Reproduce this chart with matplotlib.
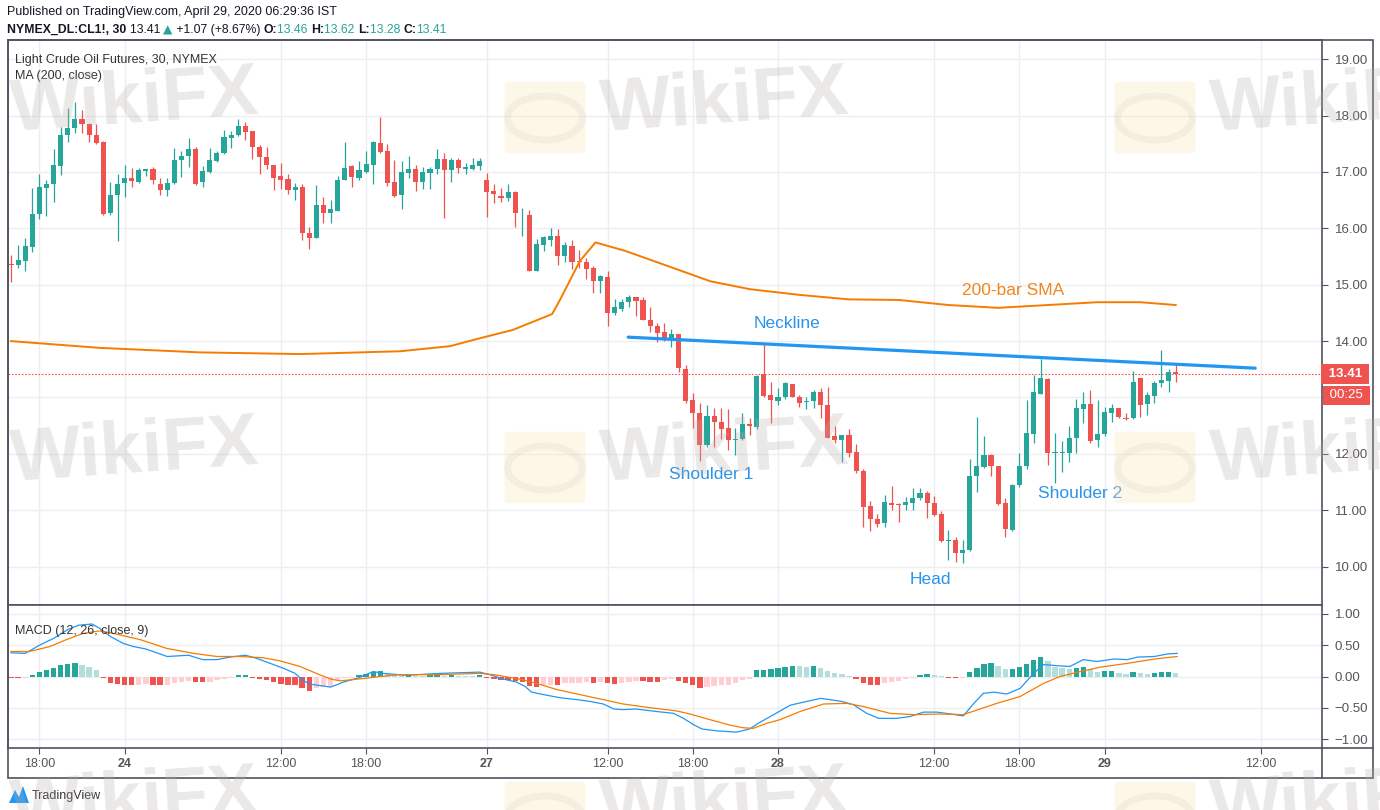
import matplotlib.pyplot as plt
import numpy as np
from matplotlib.patches import Rectangle, FancyBboxPatch, Polygon, Circle
from matplotlib.transforms import IdentityTransform, blended_transform_factory
from matplotlib.lines import Line2D

plt.rcParams['font.family'] = ['Liberation Sans', 'DejaVu Sans']

W, H = 1380, 810

# ---- OHLC of the 30-minute bars (index 0..164) ----
opens = [15.37, 15.35, 15.42, 15.67, 16.26, 16.71, 16.78, 17.10, 17.65, 17.78,
         17.94, 17.85, 17.66, 17.53, 16.27, 16.60, 16.80, 16.90, 16.82, 17.01,
         17.06, 16.78, 16.68, 16.80, 17.22, 17.28, 17.41, 16.82, 17.00, 17.19,
         17.34, 17.60, 17.65, 17.82, 17.72, 17.45, 17.27, 17.12, 16.92, 16.88,
         16.68, 16.74, 15.91, 15.83, 16.42, 16.27, 16.31, 16.86, 17.10, 16.90,
         17.00, 17.13, 17.52, 17.38, 16.83, 16.59, 16.98, 17.05, 16.82, 16.98,
         17.05, 17.23, 17.03, 17.22, 17.06, 17.05, 17.11, 16.85, 16.66, 16.58,
         16.53, 16.64, 16.23, 16.24, 15.25, 15.71, 15.80, 15.87, 15.51, 15.69,
         15.42, 15.41, 15.30, 15.06, 15.14, 14.49, 14.57, 14.69, 14.78, 14.73,
         14.38, 14.27, 14.17, 14.05, 14.13, 13.50, 12.96, 12.73, 12.16, 12.67,
         12.57, 12.46, 12.25, 12.26, 12.53, 12.47, 13.42, 13.04, 12.94, 13.00,
         13.24, 13.01, 12.92, 12.94, 13.09, 12.87, 12.31, 12.25, 12.34, 12.03,
         11.70, 11.08, 10.84, 10.77, 11.13, 11.12, 11.09, 11.13, 11.22, 11.30,
         11.13, 10.94, 10.46, 10.47, 10.24, 10.29, 11.60, 11.76, 11.98, 11.79,
         11.13, 10.65, 11.45, 11.78, 12.35, 13.07, 13.32, 12.01, 12.02, 12.02,
         12.29, 12.80, 12.88, 12.24, 12.35, 12.73, 12.81, 12.63, 12.63, 13.34,
         12.88, 13.03, 13.25, 13.30, 13.46]
highs = [15.52, 15.70, 15.82, 16.72, 16.96, 16.86, 17.41, 17.79, 18.14, 18.24,
         18.09, 17.87, 17.85, 17.55, 16.82, 16.97, 17.13, 17.07, 17.07, 17.06,
         17.09, 16.90, 16.90, 17.43, 17.38, 17.60, 17.44, 17.10, 17.43, 17.38,
         17.75, 17.72, 17.94, 17.88, 17.73, 17.47, 17.45, 17.13, 17.16, 16.96,
         16.80, 16.78, 16.02, 16.76, 16.55, 16.50, 16.92, 17.53, 17.12, 17.19,
         17.38, 17.55, 17.97, 17.49, 17.22, 17.19, 17.29, 17.13, 17.09, 17.09,
         17.41, 17.34, 17.25, 17.25, 17.16, 17.25, 17.25, 16.98, 16.78, 16.72,
         16.78, 16.67, 16.36, 16.33, 15.81, 15.87, 16.01, 15.98, 15.75, 15.80,
         15.62, 15.47, 15.33, 15.18, 15.25, 14.75, 14.75, 14.82, 14.79, 14.78,
         14.60, 14.32, 14.32, 14.21, 14.13, 13.58, 13.08, 12.91, 12.87, 12.81,
         12.81, 12.79, 12.46, 12.73, 12.63, 13.40, 13.96, 13.28, 13.16, 13.28,
         13.24, 13.04, 13.01, 13.13, 13.16, 13.18, 12.50, 12.34, 12.45, 12.18,
         11.73, 11.16, 10.94, 11.27, 11.43, 11.13, 11.23, 11.39, 11.39, 11.34,
         11.26, 10.98, 10.65, 10.52, 10.47, 11.91, 12.65, 12.32, 12.00, 11.79,
         11.22, 11.47, 12.02, 12.96, 13.40, 13.68, 13.34, 12.37, 12.22, 12.50,
         12.97, 13.10, 13.14, 12.96, 12.84, 12.88, 12.81, 12.73, 13.47, 13.34,
         13.09, 13.30, 13.85, 13.50, 13.62]
lows = [15.05, 15.30, 15.24, 15.58, 16.17, 16.21, 16.47, 16.94, 17.53, 17.69,
        17.69, 17.53, 17.49, 16.23, 16.23, 15.78, 16.55, 16.74, 16.81, 16.92,
        16.78, 16.60, 16.58, 16.79, 16.91, 17.09, 16.76, 16.74, 16.98, 17.17,
        17.32, 17.43, 17.63, 17.57, 17.23, 16.96, 17.06, 16.68, 16.70, 16.61,
        16.51, 15.79, 15.64, 15.82, 16.09, 16.09, 16.31, 16.86, 16.74, 16.85,
        16.98, 16.78, 17.33, 16.75, 16.56, 16.34, 16.89, 16.66, 16.70, 16.70,
        16.97, 16.18, 16.82, 16.99, 16.97, 17.04, 17.04, 16.20, 16.45, 16.46,
        16.48, 16.02, 15.87, 15.24, 15.24, 15.59, 15.68, 15.35, 15.41, 15.28,
        15.30, 15.10, 14.86, 14.85, 14.26, 14.47, 14.54, 14.60, 14.44, 14.37,
        14.17, 13.98, 14.01, 13.89, 13.46, 12.91, 12.46, 11.88, 12.13, 12.12,
        12.26, 12.07, 11.98, 12.24, 12.34, 12.44, 13.00, 12.54, 12.87, 12.97,
        13.00, 12.84, 12.79, 12.81, 12.64, 12.28, 12.19, 11.86, 11.94, 11.66,
        10.71, 10.63, 10.71, 10.70, 11.01, 10.80, 11.00, 11.00, 11.19, 10.86,
        10.89, 10.43, 10.12, 10.09, 10.07, 10.27, 11.33, 11.75, 11.60, 11.10,
        10.53, 10.64, 11.42, 11.73, 12.19, 13.06, 11.81, 11.49, 11.67, 11.85,
        12.02, 12.55, 12.20, 12.12, 12.32, 12.57, 12.63, 12.60, 12.61, 12.66,
        12.69, 12.91, 13.18, 13.09, 13.28]
closes = [15.35, 15.43, 15.68, 16.26, 16.74, 16.79, 17.12, 17.65, 17.78, 17.94,
          17.85, 17.66, 17.51, 16.26, 16.60, 16.79, 16.90, 16.84, 17.04, 17.06,
          16.86, 16.68, 16.80, 17.22, 17.29, 17.41, 16.79, 17.01, 17.22, 17.34,
          17.62, 17.66, 17.82, 17.70, 17.44, 17.26, 17.13, 16.90, 16.86, 16.68,
          16.74, 15.91, 15.82, 16.42, 16.27, 16.34, 16.86, 17.07, 16.91, 17.03,
          17.14, 17.53, 17.36, 16.81, 16.58, 17.00, 17.05, 16.82, 17.00, 17.05,
          17.23, 17.03, 17.22, 17.07, 17.09, 17.13, 17.20, 16.64, 16.61, 16.54,
          16.64, 16.27, 16.24, 15.25, 15.73, 15.85, 15.87, 15.51, 15.71, 15.41,
          15.40, 15.28, 15.06, 15.15, 14.49, 14.60, 14.70, 14.78, 14.72, 14.37,
          14.26, 14.15, 14.05, 14.13, 13.52, 12.93, 12.72, 12.16, 12.67, 12.56,
          12.44, 12.25, 12.27, 12.53, 12.49, 13.38, 13.03, 12.96, 13.00, 13.25,
          13.01, 12.91, 12.94, 13.09, 12.87, 12.29, 12.25, 12.34, 12.01, 11.69,
          11.06, 10.84, 10.76, 11.14, 11.10, 11.09, 11.14, 11.22, 11.30, 11.13,
          10.92, 10.45, 10.47, 10.25, 10.30, 11.61, 11.78, 11.98, 11.78, 11.12,
          10.67, 11.45, 11.78, 12.37, 13.09, 13.34, 12.01, 12.03, 12.03, 12.29,
          12.81, 12.88, 12.22, 12.35, 12.75, 12.81, 12.65, 12.61, 13.28, 12.87,
          13.04, 13.26, 13.31, 13.46, 13.41]

# 200-bar SMA (bar position, value)
ma_x = [0, 12.5, 26.6, 40.7, 54.8, 61.8, 66, 70.7, 76.2, 77.3, 80.1, 82.3, 86.5,
        91.4, 98.5, 104.1, 111, 118, 125, 132, 139, 146, 153, 159, 164]
ma_vals = [14.00, 13.88, 13.80, 13.77, 13.82, 13.91, 14.05, 14.20, 14.48, 14.73,
           15.42, 15.75, 15.60, 15.38, 15.06, 14.92, 14.82, 14.74, 14.73, 14.64,
           14.59, 14.64, 14.69, 14.69, 14.64]

# MACD line
macd_x = [0, 2, 4, 6, 8, 9.5, 11.4, 12.5, 14, 15.8, 17.2, 19, 20.5, 22, 25, 27, 29,
          30.8, 33, 34.6, 36.5, 38.4, 40, 41, 42, 45, 46.8, 49, 51, 52.4, 55.7,
          60.4, 66, 67.4, 69.3, 71.2, 72.4, 73.3, 75, 77.3, 79.7, 81.6, 83.4, 84.9,
          86.2, 88, 90.9, 93.3, 94.7, 96.1, 97.3, 99.4, 102.2, 104, 105.2, 107.4,
          109.7, 111.6, 114, 115.3, 117, 118.6, 120.5, 122.2, 124.7, 126.6, 128.5,
          130.4, 132.3, 134.1, 135.5, 136.9, 138.4, 140.2, 142.1, 144, 145.4, 147.7,
          149.1, 151, 152.9, 155.3, 157.2, 158.6, 161, 162.8, 164.2]
macd_vals = [0.38, 0.37, 0.50, 0.61, 0.75, 0.82, 0.84, 0.77, 0.64, 0.53, 0.48, 0.44,
             0.38, 0.32, 0.34, 0.27, 0.27, 0.31, 0.34, 0.29, 0.21, 0.13, 0.05, -0.05,
             -0.12, -0.17, -0.09, -0.02, 0.08, 0.05, 0.02, 0.05, 0.07, 0.03, -0.04,
             -0.09, -0.16, -0.25, -0.29, -0.34, -0.37, -0.40, -0.44, -0.52, -0.53,
             -0.52, -0.56, -0.59, -0.67, -0.77, -0.84, -0.87, -0.89, -0.84, -0.75,
             -0.61, -0.46, -0.41, -0.35, -0.37, -0.40, -0.45, -0.59, -0.67, -0.67,
             -0.64, -0.57, -0.57, -0.60, -0.63, -0.44, -0.27, -0.25, -0.28, -0.19,
             0.05, 0.19, 0.17, 0.16, 0.27, 0.24, 0.28, 0.27, 0.31, 0.32, 0.36, 0.37]

# signal line
signal_x = [0, 2.6, 5.5, 7.8, 10.2, 12.5, 14.4, 18.2, 21.9, 25.7, 29, 32.3, 35.5,
            37.9, 40.7, 43, 45, 46.3, 49, 52, 54.8, 60.4, 66, 68, 72, 74, 76.9,
            79.7, 83.4, 86.2, 90, 93.7, 95.6, 98.4, 101.3, 103.1, 104.5, 106.4,
            108.3, 111.1, 114.4, 117.7, 120, 123.8, 127.1, 130.9, 134.1, 138.8,
            142.1, 145.4, 147.7, 150.6, 153.4, 157.2, 161, 164.2]
signal_vals = [0.40, 0.40, 0.48, 0.59, 0.69, 0.73, 0.69, 0.59, 0.45, 0.37, 0.32, 0.32,
               0.30, 0.25, 0.16, 0.05, -0.04, -0.07, -0.04, 0.00, 0.03, 0.03, 0.05,
               0.03, -0.05, -0.11, -0.21, -0.28, -0.37, -0.44, -0.50, -0.55, -0.60,
               -0.69, -0.78, -0.82, -0.83, -0.75, -0.69, -0.56, -0.44, -0.43, -0.48,
               -0.59, -0.61, -0.60, -0.61, -0.43, -0.32, -0.11, 0.00, 0.08, 0.15,
               0.21, 0.28, 0.32]

# MACD histogram, one value per bar
hist_vals = [-0.03, -0.03, -0.02, 0.02, 0.08, 0.11, 0.14, 0.18, 0.20, 0.21,
             0.19, 0.16, 0.11, -0.03, -0.11, -0.12, -0.13, -0.14, -0.13, -0.12,
             -0.13, -0.14, -0.13, -0.10, -0.08, -0.07, -0.08, -0.09, -0.08, -0.05,
             -0.04, -0.03, 0.02, 0.02, -0.02, -0.04, -0.05, -0.09, -0.12, -0.13,
             -0.14, -0.19, -0.23, -0.19, -0.17, -0.16, -0.05, -0.03, -0.02, 0.03,
             0.04, 0.08, 0.09, 0.05, 0.03, 0.02, 0.025, 0.015, 0.01, 0.02,
             0.025, 0.015, 0.02, 0.015, 0.01, 0.005, 0.02, -0.03, -0.04, -0.05,
             -0.055, -0.07, -0.09, -0.15, -0.16, -0.14, -0.13, -0.135, -0.11, -0.105,
             -0.10, -0.095, -0.10, -0.08, -0.11, -0.12, -0.10, -0.09, -0.07, -0.075,
             -0.08, -0.085, -0.06, -0.04, -0.07, -0.11, -0.14, -0.18, -0.16, -0.15,
             -0.14, -0.13, -0.10, -0.06, -0.04, 0.10, 0.11, 0.12, 0.13, 0.16,
             0.17, 0.165, 0.16, 0.165, 0.14, 0.09, 0.05, 0.04, 0.01, -0.04,
             -0.10, -0.13, -0.14, -0.11, -0.09, -0.07, -0.04, -0.02, 0.03, 0.04,
             0.02, 0.01, -0.02, -0.03, -0.025, 0.08, 0.14, 0.20, 0.21, 0.17,
             0.12, 0.125, 0.15, 0.20, 0.27, 0.32, 0.25, 0.16, 0.14, 0.12,
             0.14, 0.15, 0.12, 0.08, 0.085, 0.09, 0.05, 0.04, 0.08, 0.05,
             0.045, 0.06, 0.065, 0.08, 0.06]

tick_bars = [4, 16, 38, 50, 67, 84, 96, 108, 130, 142, 154, 176]
tick_labels = ['18:00', '24', '12:00', '18:00', '27', '12:00', '18:00', '28',
               '12:00', '18:00', '29', '12:00']
day_labels = ['24', '27', '28', '29']

price_ticks = [10, 11, 12, 13, 14, 15, 16, 17, 18, 19]
price_tick_labels = ['10.00', '11.00', '12.00', '', '14.00', '15.00', '16.00', '17.00',
                     '18.00', '19.00']  # 13.00 sits under the last-price boxes

neck_x = [86.9, 175.2]
neck_y = [14.07, 13.52]
last_close = 13.41

# pattern labels: (text, bar, price)
pattern_labels = [('Neckline', 109.3, 14.32), ('Shoulder 1', 98.6, 11.64),
                  ('Head', 129.4, 9.78), ('Shoulder 2', 150.6, 11.29)]

# ---- colours ----
GREEN = '#26a69a'
LGREEN = '#b2dfdb'
RED = '#ef5350'
PINK = '#ffcdd2'
BLUE = '#2196f3'
ORANGE = '#f57c00'
GRID = '#eceff2'
FRAME = '#50535e'
TXT = '#131722'

fig = plt.figure(figsize=(W / 100, H / 100), dpi=100)


def fx(x):
    return x / W


def fy(y):
    return 1 - y / H


ax = fig.add_axes([fx(8), fy(605), fx(1322) - fx(8), fy(40) - fy(605)])
axm = fig.add_axes([fx(8), fy(748), fx(1322) - fx(8), fy(605) - fy(748)], sharex=ax)

# candles
idx = np.arange(len(closes))
o, h, l, c = map(np.array, (opens, highs, lows, closes))
col = np.where(c >= o, GREEN, RED)
ax.vlines(idx, l, h, colors=col, lw=0.9, zorder=3)
ax.bar(idx, np.maximum(np.abs(c - o), 0.015), bottom=np.minimum(o, c), width=0.72,
       color=col, lw=0, zorder=3)

# SMA, neckline, last price line
ax.plot(ma_x, ma_vals, color=ORANGE, lw=1.4, zorder=4)
ax.plot(neck_x, neck_y, color=BLUE, lw=2.3, solid_capstyle='round', zorder=5)
ax.axhline(last_close, color=RED, lw=0.8, ls=(0, (1.5, 1.5)), zorder=2)

for s, bx, py in pattern_labels:
    ax.text(bx, py, s, ha='center', va='center', color='#2a93ea', fontsize=12.5, zorder=6)
ax.text(141.1, 14.89, '200-bar SMA', ha='center', va='center', color='#f0861c',
        fontsize=12.5, zorder=6)

ax.text(0.0055, 0.965, 'Light Crude Oil Futures, 30, NYMEX', transform=ax.transAxes,
        fontsize=9, color='#333333', va='center')
ax.text(0.0055, 0.937, 'MA (200, close)', transform=ax.transAxes,
        fontsize=9, color='#333333', va='center')

# price boxes on the axis
bt = blended_transform_factory(ax.transAxes, ax.transData)
ax.text(1.002, last_close, ' 13.41 ', transform=bt, va='center', ha='left', color='white',
        fontsize=9.5, fontweight='bold', clip_on=False, zorder=10,
        bbox=dict(boxstyle='square,pad=0.3', fc=RED, ec='none'))
ax.annotate(' 00:25 ', xy=(1.003, last_close), xycoords=bt, xytext=(0, -15),
            textcoords='offset points', va='center', ha='left', color='white',
            fontsize=9.5, annotation_clip=False, zorder=10,
            bbox=dict(boxstyle='square,pad=0.25', fc=RED, ec='none'))

# MACD panel
hist = np.array(hist_vals)
prev = np.concatenate([[hist[0]], hist[:-1]])
hcol = np.where(hist >= 0, np.where(hist >= prev, GREEN, LGREEN),
                np.where(hist <= prev, RED, PINK))
axm.bar(idx, hist, width=0.75, color=hcol, lw=0, zorder=2)
axm.plot(macd_x, macd_vals, color=BLUE, lw=0.9, zorder=3)
axm.plot(signal_x, signal_vals, color=ORANGE, lw=0.9, zorder=3)
axm.text(0.0055, 0.82, 'MACD (12, 26, close, 9)', transform=axm.transAxes,
         fontsize=9, color='#333333', va='center')

# axes styling
ax.set_xlim(-0.42, 184.6)
ax.set_ylim(9.32, 19.34)
axm.set_ylim(-1.144, 1.144)
ax.set_yticks(price_ticks)
ax.set_yticklabels(price_tick_labels)
axm.set_yticks([-1, -0.5, 0, 0.5, 1])
axm.set_yticklabels(['\u22121.00', '\u22120.50', '0.00', '0.50', '1.00'])
axm.set_xticks(tick_bars)
axm.set_xticklabels(tick_labels)
for t in axm.get_xticklabels():
    if t.get_text() in day_labels:
        t.set_fontweight('bold')
ax.tick_params(axis='x', bottom=False, labelbottom=False)
axm.tick_params(axis='x', length=4, color=FRAME, labelsize=9, labelcolor='#555555', pad=3)
for a in (ax, axm):
    a.yaxis.tick_right()
    a.tick_params(axis='y', length=4, color=FRAME, labelsize=9.5, labelcolor='#555555', pad=5)
    a.grid(True, color=GRID, lw=1)
    a.set_axisbelow(True)
    for sp in a.spines.values():
        sp.set_color(FRAME)
        sp.set_linewidth(1.2)

# outer frame of the chart incl. time axis row
fig.add_artist(Rectangle((fx(8), fy(778)), fx(1373) - fx(8), fy(40) - fy(778),
                         transform=fig.transFigure, fill=False, ec=FRAME, lw=1.2))
fig.add_artist(Line2D([fx(1322), fx(1322)], [fy(748), fy(778)],
                      transform=fig.transFigure, color=FRAME, lw=1.2))
fig.add_artist(Line2D([fx(1322), fx(1373)], [fy(748), fy(748)],
                      transform=fig.transFigure, color=FRAME, lw=1.2))


def put(xp, yp, s, **kw):
    return fig.text(xp, H - yp, s, transform=IdentityTransform(), va='center', **kw)


renderer = fig.canvas.get_renderer()


def chain(xp, yp, parts, size):
    for s, kw in parts:
        t = put(xp, yp, s, fontsize=size, **kw)
        xp = t.get_window_extent(renderer).x1


put(7, 12, 'Published on TradingView.com, April 29, 2020 06:29:36 IST', fontsize=9,
    color=TXT)
chain(7, 30, [('NYMEX_DL:CL1!, 30 ', dict(fontweight='bold', color=TXT)),
              ('13.41 ', dict(color=TXT)),
              ('\u25b2', dict(color=GREEN, family='DejaVu Sans')),
              (' +1.07 (+8.67%) ', dict(color=TXT)),
              ('O:', dict(fontweight='bold', color=TXT)),
              ('13.46 ', dict(color=GREEN)),
              ('H:', dict(fontweight='bold', color=TXT)),
              ('13.62 ', dict(color=GREEN)),
              ('L:', dict(fontweight='bold', color=TXT)),
              ('13.28 ', dict(color=GREEN)),
              ('C:', dict(fontweight='bold', color=TXT)),
              ('13.41', dict(color=GREEN))], 8.8)

# TradingView footer
fig.add_artist(Polygon([(fx(9), fy(803)), (fx(15), fy(790)), (fx(19), fy(797)),
                        (fx(23), fy(786)), (fx(29), fy(803))],
                       closed=True, transform=fig.transFigure, fc='#2196f3', ec='none'))
put(32, 796, 'TradingView', fontsize=9, color='#333333')

# WikiFX watermarks
for lx in (-80, 510, 1120):
    for ly in (85, 435, 785):
        fig.add_artist(FancyBboxPatch((fx(lx), fy(ly + 65)), fx(70), 65 / H,
                                      boxstyle='round,pad=0.004', transform=fig.transFigure,
                                      fc='#fbe9bf', ec='none', alpha=0.35, zorder=20))
        fig.add_artist(Circle((fx(lx + 35), fy(ly + 33)), 22 / H, transform=fig.transFigure,
                              fc='none', ec='#b9b0aa', lw=5, alpha=0.12, zorder=20))
        put(lx + 88, ly + 18, 'WikiFX', fontsize=54, fontweight='bold', color='#b9b0aa',
            alpha=0.28, rotation=4, zorder=21)

fig.savefig('out.png', dpi=100)
